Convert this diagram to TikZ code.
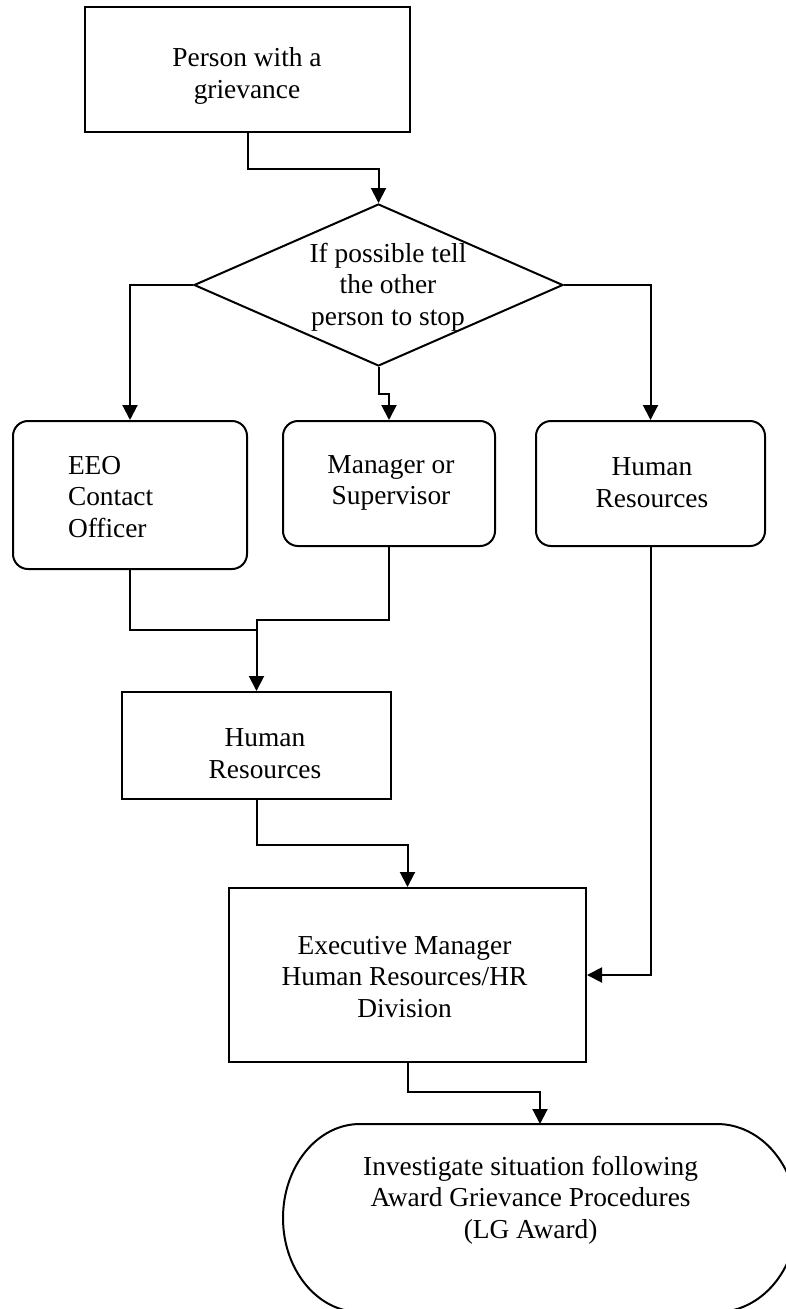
\documentclass[tikz,border=0pt]{standalone}
\usepackage{fontspec}
\setmainfont{Liberation Serif}
\usetikzlibrary{arrows.meta,shapes.geometric}
\begin{document}
\begin{tikzpicture}[x=1pt,y=-1pt,
  line width=2pt,
  txt/.style={font=\fontsize{27.4}{31.7}\selectfont, align=center, inner sep=0pt},
  box/.style={draw, rectangle, inner sep=0pt, txt},
  rbox/.style={box, rounded corners=15pt},
  arr/.style={-{Triangle[length=15pt,width=15pt]}},
]
\useasboundingbox (0,0) rectangle (785,1309);

% shapes
\node[box, minimum width=325pt, minimum height=125pt] (top) at (247.5,69.5) {};
\node[txt] (topt) at (247,76) {Person with a\\grievance};
\node[draw, diamond, inner sep=0pt, minimum width=369pt, minimum height=162pt] (dia) at (378.5,285) {};
\node[txt] (diat) at (388,287) {If possible tell\\the other\\person to stop};

\node[rbox, minimum width=234pt, minimum height=148pt] (eeo) at (130,495) {};
\node[txt, align=left, anchor=west] (eeot) at (67,497) {EEO\\Contact\\Officer};
\node[rbox, minimum width=212pt, minimum height=125pt] (mgr) at (389,483.5) {};
\node[txt] (mgrt) at (391,483) {Manager or\\Supervisor};
\node[rbox, minimum width=229pt, minimum height=125pt] (hr1) at (650.5,483.5) {};
\node[txt] (hr1t) at (652,483) {Human\\Resources};

\node[box, minimum width=269pt, minimum height=107pt] (hr2) at (256.5,745.5) {};
\node[txt] (hr2t) at (265,754) {Human\\Resources};

\node[box, minimum width=357pt, minimum height=174pt] (exec) at (407.5,975) {};
\node[txt] (exect) at (404.5,977) {Executive Manager\\Human Resources/HR\\Division};

% terminal
\draw (360,1124) -- (717,1124)
  .. controls (761.2,1124) and (797,1166.1) .. (797,1218)
  .. controls (797,1269.9) and (761.2,1312) .. (717,1312)
  -- (360,1312)
  .. controls (317.5,1312) and (283,1269.9) .. (283,1218)
  .. controls (283,1166.1) and (317.5,1124) .. (360,1124) -- cycle;
\coordinate (termtop) at (540,1124);
\node[txt] (term) at (530.6,1200) {Investigate situation following\\Award Grievance Procedures\\(LG Award)};

% connectors
\draw[arr] (top.south) -- ++(0,36) -| (dia.north);
\draw[arr] (dia.west) -| (eeo.north);
\draw[arr] (dia.south) -- ++(0,27) -| (mgr.north);
\draw[arr] (dia.east) -| (hr1.north);
\coordinate (jn) at (256.5,630);
\draw (eeo.south) |- (jn);
\draw[arr] (mgr.south) -- ++(0,73) -| (hr2.north);
\draw[arr] (hr2.south) -- ++(0,45) -| (exec.north);
\draw[arr] (hr1.south) |- (exec.east);
\draw[arr] (exec.south) -- ++(0,29) -| (termtop);
\end{tikzpicture}
\end{document}
